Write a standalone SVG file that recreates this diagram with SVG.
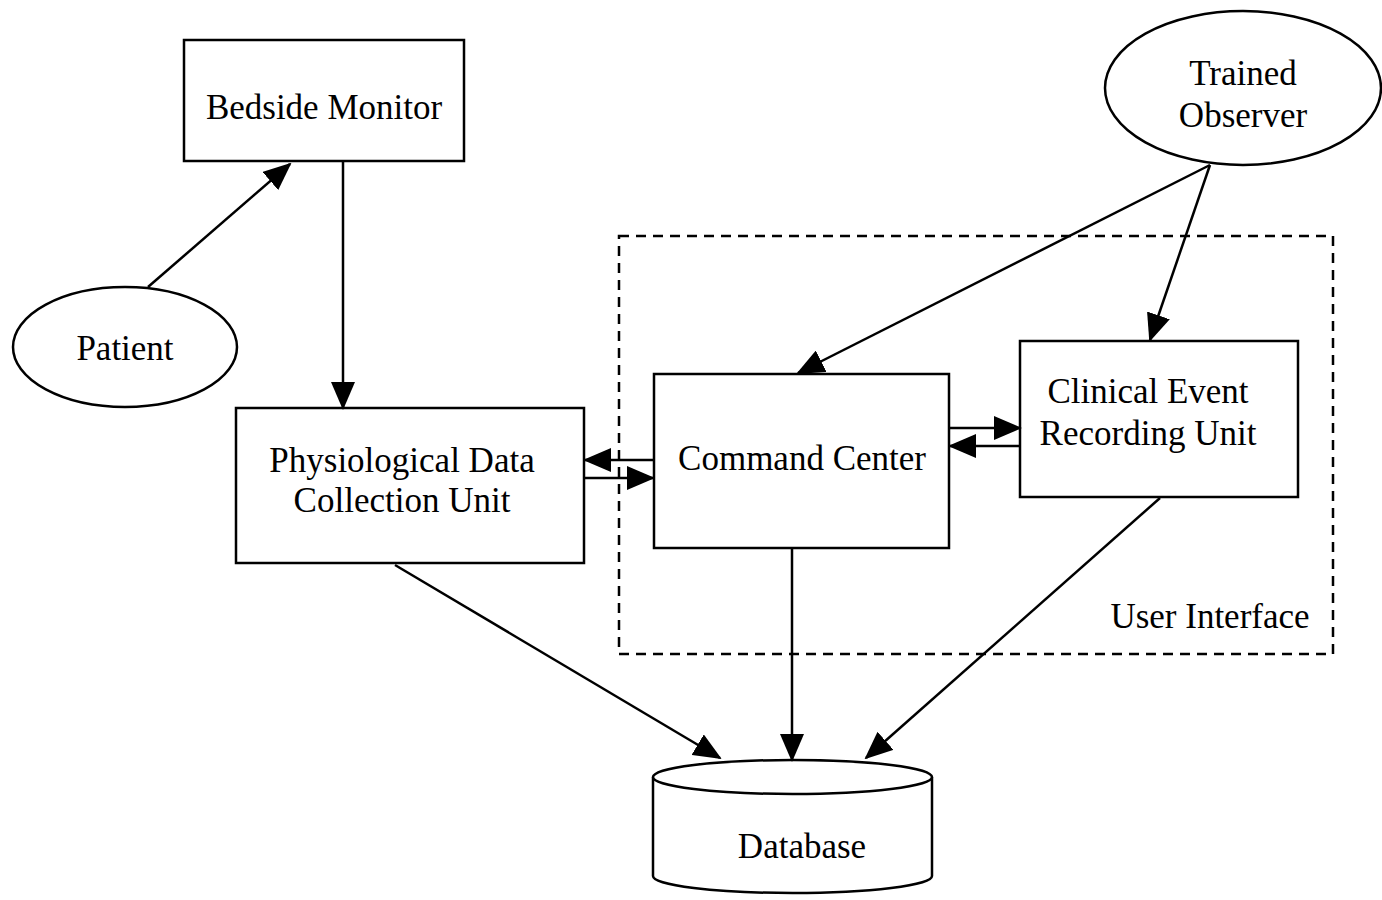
<svg xmlns="http://www.w3.org/2000/svg" width="1382" height="900" viewBox="0 0 1382 900">
<style>
.s{fill:#fff;stroke:#000;stroke-width:2.5}
.t{font-family:"Liberation Serif","Times New Roman",serif;font-size:35px;fill:#000;text-anchor:middle}
.c{stroke:#000;stroke-width:2.5;fill:none;marker-end:url(#a)}
</style>
<defs>
<marker id="a" markerUnits="userSpaceOnUse" markerWidth="28" markerHeight="24" refX="26" refY="12" orient="auto" viewBox="0 0 28 24">
<path d="M0,0 L28,12 L0,24 Z" fill="#000"/>
</marker>
</defs>
<rect width="1382" height="900" fill="#fff"/>
<g id="user-interface">
<rect x="619" y="236" width="714" height="418" fill="none" stroke="#000" stroke-width="2.5" stroke-dasharray="10,7"/>
<text class="t" x="1210" y="628">User Interface</text>
</g>
<g id="bedside-monitor">
<rect class="s" x="184" y="40" width="280" height="121"/>
<text class="t" x="324" y="119">Bedside Monitor</text>
</g>
<g id="patient">
<ellipse class="s" cx="125" cy="347" rx="112" ry="60"/>
<text class="t" x="125" y="360">Patient</text>
</g>
<g id="pdcu">
<rect class="s" x="236" y="408" width="348" height="155"/>
<text class="t" x="402" y="472">Physiological Data</text>
<text class="t" x="402" y="512">Collection Unit</text>
</g>
<g id="command-center">
<rect class="s" x="654" y="374" width="295" height="174"/>
<text class="t" x="802" y="470">Command Center</text>
</g>
<g id="ceru">
<rect class="s" x="1020" y="341" width="278" height="156"/>
<text class="t" x="1148" y="403">Clinical Event</text>
<text class="t" x="1148" y="445">Recording Unit</text>
</g>
<g id="trained-observer">
<ellipse class="s" cx="1243" cy="88" rx="138" ry="77"/>
<text class="t" x="1243" y="85">Trained</text>
<text class="t" x="1243" y="127">Observer</text>
</g>
<g id="database">
<path class="s" d="M653,777 L653,876 A139.5,17 0 0 0 932,876 L932,777"/>
<ellipse class="s" cx="792.5" cy="777" rx="139.5" ry="17"/>
<text class="t" x="802" y="858">Database</text>
</g>
<g id="connectors">
<line class="c" x1="148" y1="287" x2="290" y2="164"/>
<line class="c" x1="343" y1="161" x2="343" y2="408"/>
<line class="c" x1="654" y1="460" x2="585" y2="460"/>
<line class="c" x1="584" y1="478" x2="653" y2="478"/>
<line class="c" x1="949" y1="428" x2="1020" y2="428"/>
<line class="c" x1="1020" y1="446" x2="950" y2="446"/>
<line class="c" x1="1210" y1="165" x2="798" y2="373"/>
<line class="c" x1="1210" y1="165" x2="1150" y2="340"/>
<line class="c" x1="395" y1="565" x2="720" y2="758"/>
<line class="c" x1="792" y1="548" x2="792" y2="760"/>
<line class="c" x1="1160" y1="498" x2="866" y2="758"/>
</g>
</svg>
